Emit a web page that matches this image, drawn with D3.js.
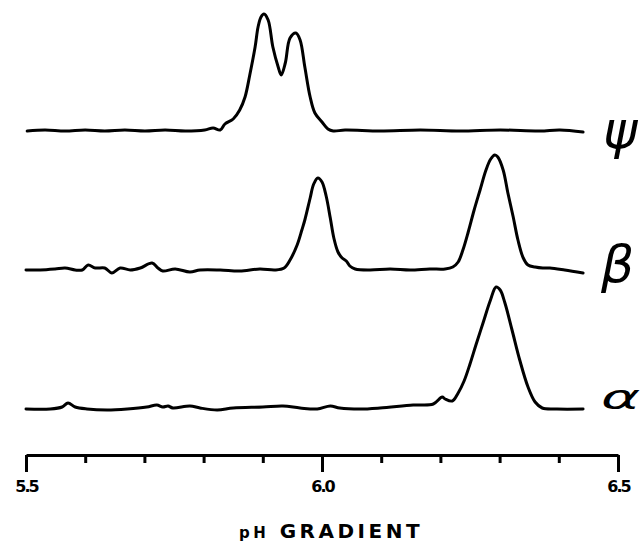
<!DOCTYPE html>
<html>
<head>
<meta charset="utf-8">
<script src="https://cdn.jsdelivr.net/npm/d3@7"></script>
<style>
  body { margin: 0; background: #fff; }
</style>
</head>
<body>
<div id="chart"></div>
<script>
// densitometer traces, [pH, relative absorbance]
let psiTrace = [
  [5.502, 0], [5.532, 1], [5.566, 0], [5.600, 1], [5.633, 0], [5.667, 1], [5.701, 0],
  [5.735, 1], [5.769, 0], [5.802, 1], [5.816, 3], [5.828, 1], [5.836, 7], [5.850, 12],
  [5.861, 21], [5.870, 34], [5.878, 56], [5.887, 84], [5.892, 104], [5.897, 114],
  [5.902, 117], [5.909, 111], [5.917, 84], [5.926, 64], [5.931, 56], [5.938, 68],
  [5.946, 93], [5.956, 98], [5.963, 91], [5.971, 64], [5.980, 34], [5.988, 18],
  [6.000, 9], [6.010, 2], [6.019, 0], [6.039, 1], [6.098, 0], [6.166, 1], [6.233, 0],
  [6.301, 1], [6.368, 0], [6.402, 1], [6.441, -1]
]
let betaTrace = [
  [5.500, 0], [5.524, 0], [5.549, 1], [5.566, 2], [5.583, 0], [5.595, 0], [5.605, 5],
  [5.617, 2], [5.633, 2], [5.645, -3], [5.659, 2], [5.676, 0], [5.693, 2], [5.713, 7],
  [5.723, 2], [5.731, -1], [5.752, 1], [5.777, -2], [5.794, 0], [5.828, 0], [5.861, -1],
  [5.895, 1], [5.921, 0], [5.936, 2], [5.946, 10], [5.958, 25], [5.966, 40], [5.971, 50],
  [5.980, 72], [5.986, 86], [5.993, 92], [6.000, 88], [6.007, 74], [6.014, 52],
  [6.020, 32], [6.027, 18], [6.034, 12], [6.041, 9], [6.047, 4], [6.056, 1], [6.081, 0],
  [6.115, 1], [6.149, 0], [6.182, 1], [6.208, 1], [6.221, 3], [6.230, 8], [6.238, 20],
  [6.247, 38], [6.257, 60], [6.267, 80], [6.277, 100], [6.285, 111], [6.292, 115],
  [6.297, 113], [6.306, 100], [6.314, 77], [6.323, 53], [6.331, 30], [6.340, 12],
  [6.348, 5], [6.360, 3], [6.373, 2], [6.385, 2], [6.410, 0], [6.441, -3]
]
let alphaTrace = [
  [5.500, 0], [5.541, 0], [5.561, 2], [5.571, 6], [5.583, 2], [5.603, 0], [5.637, -1],
  [5.671, 0], [5.704, 2], [5.721, 4], [5.731, 2], [5.740, 3], [5.748, 1], [5.777, 3],
  [5.794, 1], [5.823, -1], [5.850, 1], [5.900, 2], [5.934, 3], [5.963, 1], [5.992, 0],
  [6.014, 3], [6.030, 1], [6.064, 0], [6.098, 1], [6.154, 4], [6.188, 5], [6.203, 12],
  [6.208, 10], [6.220, 8], [6.230, 16], [6.240, 28], [6.250, 45], [6.260, 64],
  [6.272, 86], [6.284, 108], [6.294, 122], [6.301, 119], [6.309, 106], [6.321, 79],
  [6.334, 49], [6.348, 22], [6.360, 7], [6.372, 1], [6.397, 0], [6.441, 0]
]
let traceNames = ["ψ", "β", "α"]
let tickValues = d3.range(0, 11).map(i => +(5.5 + i / 10).toFixed(1))
let majorTicks = [5.5, 6.0, 6.5]
let tickLabels = ["5.5", "6.0", "6.5"]
let axisTitle = ["pH", "GRADIENT"]

let width = 640
let height = 546
let svg = d3.select("#chart")
  .append("svg")
  .attr("width", width)
  .attr("height", height)
  .style("background", "#fff")

let x = d3.scaleLinear().domain([5.5, 6.5]).range([26, 618])
let y = d3.scaleLinear().domain([0, 120]).range([0, -120])

let traces = [
  { data: psiTrace, base: 131, name: traceNames[0] },
  { data: betaTrace, base: 270, name: traceNames[1] },
  { data: alphaTrace, base: 409, name: traceNames[2] }
]

let line = d3.line()
  .x(d => x(d[0]))
  .y(d => y(d[1]))
  .curve(d3.curveCatmullRom)

let rows = svg.selectAll("g.trace")
  .data(traces)
  .enter()
  .append("g")
  .attr("class", "trace")
  .attr("transform", d => "translate(0," + d.base + ")")

rows.append("path")
  .attr("d", d => line(d.data))
  .attr("fill", "none")
  .attr("stroke", "#000")
  .attr("stroke-width", 3)
  .attr("stroke-linejoin", "round")
  .attr("stroke-linecap", "round")

// greek labels at the right end of each trace
let greek = rows.append("text")
  .text(d => d.name)
  .attr("font-family", "DejaVu Sans")
  .attr("font-style", "italic")
  .attr("fill", "#000")
rows.filter((d, i) => i == 0).select("text")
  .attr("x", 603).attr("y", 17).attr("font-size", 52)
rows.filter((d, i) => i == 1).select("text")
  .attr("x", 601).attr("y", 12).attr("font-size", 52)
rows.filter((d, i) => i == 2).select("text")
  .attr("transform", "translate(601,0) scale(1.8,1)")
  .attr("font-size", 33)

let isMajor = v => majorTicks.some(m => Math.abs(m - v) < 1e-6)

let axis = d3.axisBottom(x)
  .tickValues(tickValues)
  .tickSize(8)
  .tickSizeOuter(0)
  .tickFormat(v => isMajor(v) ? tickLabels[majorTicks.findIndex(m => Math.abs(m - v) < 1e-6)] : "")

let gx = svg.append("g")
  .attr("transform", "translate(0,455)")
  .call(axis)
gx.select(".domain").attr("stroke", "#000").attr("stroke-width", 3)
gx.selectAll(".tick line")
  .attr("stroke", "#000")
  .attr("stroke-width", 3)
  .attr("y2", v => isMajor(v) ? 17 : 8)
gx.selectAll(".tick text")
  .attr("y", 26)
  .attr("fill", "#000")
  .style("font-family", "DejaVu Sans")
  .style("font-weight", "bold")
  .style("font-size", "16px")
  .style("letter-spacing", "-2px")

let title = svg.append("text")
  .attr("x", 331)
  .attr("y", 538)
  .attr("text-anchor", "middle")
  .style("font-family", "DejaVu Sans")
  .style("font-weight", "bold")
  .style("letter-spacing", "3.5px")
  .attr("fill", "#000")
title.append("tspan").text(axisTitle[0]).style("font-size", "15px")
title.append("tspan").text(" " + axisTitle[1]).style("font-size", "20px")
</script>
</body>
</html>
